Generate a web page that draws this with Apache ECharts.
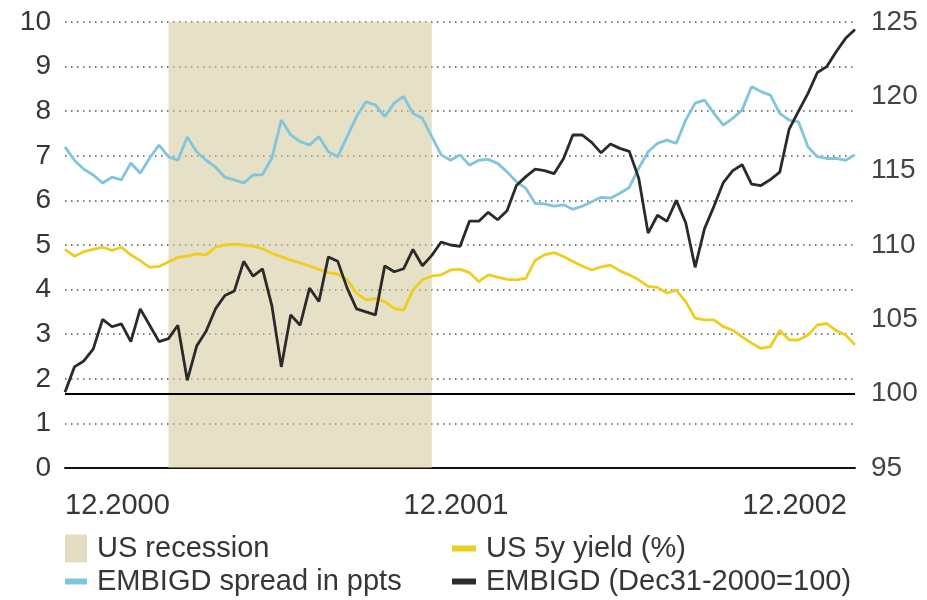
<!DOCTYPE html>
<html>
<head>
<meta charset="utf-8">
<title>EMBIGD, spread and US 5y yield</title>
<script src="https://cdn.jsdelivr.net/npm/echarts@6/dist/echarts.min.js"></script>
<style>
html,body{margin:0;padding:0;background:#fff;}
#main{width:927px;height:600px;}
</style>
</head>
<body>
<div id="main"></div>
<script>
// EMBIGD spread in ppts (left axis)
var spread = [7.20,6.90,6.70,6.57,6.39,6.52,6.46,6.84,6.61,6.95,
              7.24,6.98,6.90,7.42,7.09,6.90,6.75,6.52,6.46,6.39,
              6.57,6.58,6.95,7.80,7.47,7.32,7.24,7.43,7.09,6.98,
              7.43,7.88,8.21,8.14,7.88,8.18,8.33,7.95,7.84,7.43,
              7.02,6.90,7.02,6.79,6.90,6.92,6.83,6.64,6.42,6.27,
              5.93,5.92,5.87,5.90,5.80,5.87,5.97,6.07,6.05,6.16,
              6.29,6.72,7.09,7.28,7.35,7.28,7.80,8.18,8.25,7.95,
              7.69,7.84,8.03,8.55,8.44,8.36,7.95,7.80,7.76,7.20,
              6.98,6.94,6.94,6.90,7.02];
// US 5y yield in % (left axis)
var yield5y = [4.90,4.75,4.85,4.90,4.95,4.88,4.95,4.78,4.65,4.50,
               4.52,4.62,4.72,4.75,4.80,4.78,4.95,5.00,5.02,5.00,
               4.97,4.92,4.81,4.74,4.66,4.60,4.53,4.45,4.38,4.35,
               4.22,3.92,3.77,3.80,3.73,3.58,3.54,3.99,4.22,4.30,
               4.33,4.44,4.46,4.38,4.18,4.33,4.28,4.23,4.22,4.25,
               4.66,4.78,4.83,4.74,4.63,4.53,4.44,4.51,4.55,4.42,
               4.33,4.22,4.07,4.05,3.92,3.99,3.73,3.36,3.32,3.32,
               3.17,3.09,2.94,2.80,2.68,2.72,3.09,2.87,2.87,2.98,
               3.21,3.24,3.08,2.98,2.76];
// EMBIGD index, Dec31-2000=100 (right axis)
var embigd = [100.1,101.8,102.2,103.0,105.0,104.5,104.7,103.5,105.7,104.6,
              103.5,103.7,104.6,100.9,103.2,104.2,105.7,106.6,106.9,108.9,
              107.9,108.4,105.9,101.8,105.3,104.6,107.1,106.2,109.2,108.9,
              107.1,105.7,105.5,105.3,108.6,108.2,108.4,109.7,108.6,109.3,
              110.2,110.0,109.9,111.6,111.6,112.2,111.7,112.3,114.0,114.6,
              115.1,115.0,114.8,115.8,117.4,117.4,116.9,116.2,116.8,116.5,
              116.3,114.5,110.8,112.0,111.6,113.0,111.5,108.5,111.1,112.6,
              114.2,115.0,115.4,114.1,114.0,114.4,114.9,117.8,119.0,120.2,
              121.6,122.0,123.0,123.9,124.5];

var recession = ['2001-03-21', '2002-01-01'];

// dates every ~10 days from 1 Dec 2000
var dates = [];
var dd = ['01','11','21'];
for (var m = 0; dates.length < spread.length; m++) {
    var y = 2000 + Math.floor((11 + m) / 12);
    var mo = (11 + m) % 12 + 1;
    for (var k = 0; k < 3 && dates.length < spread.length; k++) {
        dates.push(y + '-' + (mo < 10 ? '0' + mo : mo) + '-' + dd[k]);
    }
}

var txt = '#363636';
var font = 'Liberation Sans, Arial, sans-serif';
var cBlue = '#80c5de', cYellow = '#efcd20', cBlack = '#2a2a2a', cBeige = '#e4ddc3';

function legendAt(name, left, top, w, h) {
    return {
        data: [name], left: left, top: top, padding: 0,
        icon: 'rect', itemWidth: w, itemHeight: h,
        selectedMode: false,
        textStyle: {fontSize: 29, color: txt, fontFamily: font, padding: [0, 0, 0, 5]}
    };
}

var chart = echarts.init(document.getElementById('main'));
var option = {
    animation: false,
    backgroundColor: '#fff',
    grid: {left: 65, right: 72, top: 22, bottom: 132},
    legend: [
        legendAt('US recession', 65, 534, 22, 28),
        legendAt('US 5y yield (%)', 452, 534, 24, 6),
        legendAt('EMBIGD spread in ppts', 65, 567, 22, 6),
        legendAt('EMBIGD (Dec31-2000=100)', 452, 567, 24, 6)
    ],
    xAxis: {
        type: 'category',
        data: dates,
        boundaryGap: false,
        axisLine: {lineStyle: {color: '#111', width: 2}},
        axisTick: {show: false},
        splitLine: {show: false},
        axisLabel: {
            interval: function (idx) { return idx % 36 === 0; },
            formatter: function (v) { return v.substring(5, 7) + '.' + v.substring(0, 4); },
            align: 'left', margin: 23, fontSize: 29, color: txt, fontFamily: font
        }
    },
    yAxis: [
        {
            type: 'value', min: 0, max: 10, interval: 1, position: 'left',
            axisLine: {show: false}, axisTick: {show: false},
            axisLabel: {fontSize: 28, color: txt, margin: 14, fontFamily: font},
            splitLine: {lineStyle: {type: [1.5, 4.5], color: '#555', width: 1.5}}
        },
        {
            type: 'value', min: 95, max: 125, interval: 5, position: 'right',
            axisLine: {show: false}, axisTick: {show: false},
            axisLabel: {fontSize: 28, color: '#444', margin: 16, fontFamily: font},
            splitLine: {show: false}
        }
    ],
    series: [
        {
            name: 'US recession', type: 'line', data: [],
            itemStyle: {color: cBeige},
            markArea: {
                silent: true,
                itemStyle: {color: 'rgba(210,199,152,0.55)'},
                data: [[{xAxis: recession[0]}, {xAxis: recession[1]}]]
            }
        },
        {
            name: 'EMBIGD spread in ppts', type: 'line', yAxisIndex: 0,
            data: spread, showSymbol: false,
            itemStyle: {color: cBlue}, lineStyle: {color: cBlue, width: 2.8}
        },
        {
            name: 'US 5y yield (%)', type: 'line', yAxisIndex: 0,
            data: yield5y, showSymbol: false,
            itemStyle: {color: cYellow}, lineStyle: {color: cYellow, width: 2.8}
        },
        {
            name: 'EMBIGD (Dec31-2000=100)', type: 'line', yAxisIndex: 1,
            data: embigd, showSymbol: false,
            itemStyle: {color: cBlack}, lineStyle: {color: cBlack, width: 2.8},
            markLine: {
                silent: true, symbol: ['none', 'none'],
                label: {show: false},
                lineStyle: {color: '#000', width: 2, type: 'solid'},
                data: [{yAxis: 100}]
            }
        }
    ]
};
chart.setOption(option);
window.addEventListener('resize', function () {
    chart.resize();
});
</script>
</body>
</html>
